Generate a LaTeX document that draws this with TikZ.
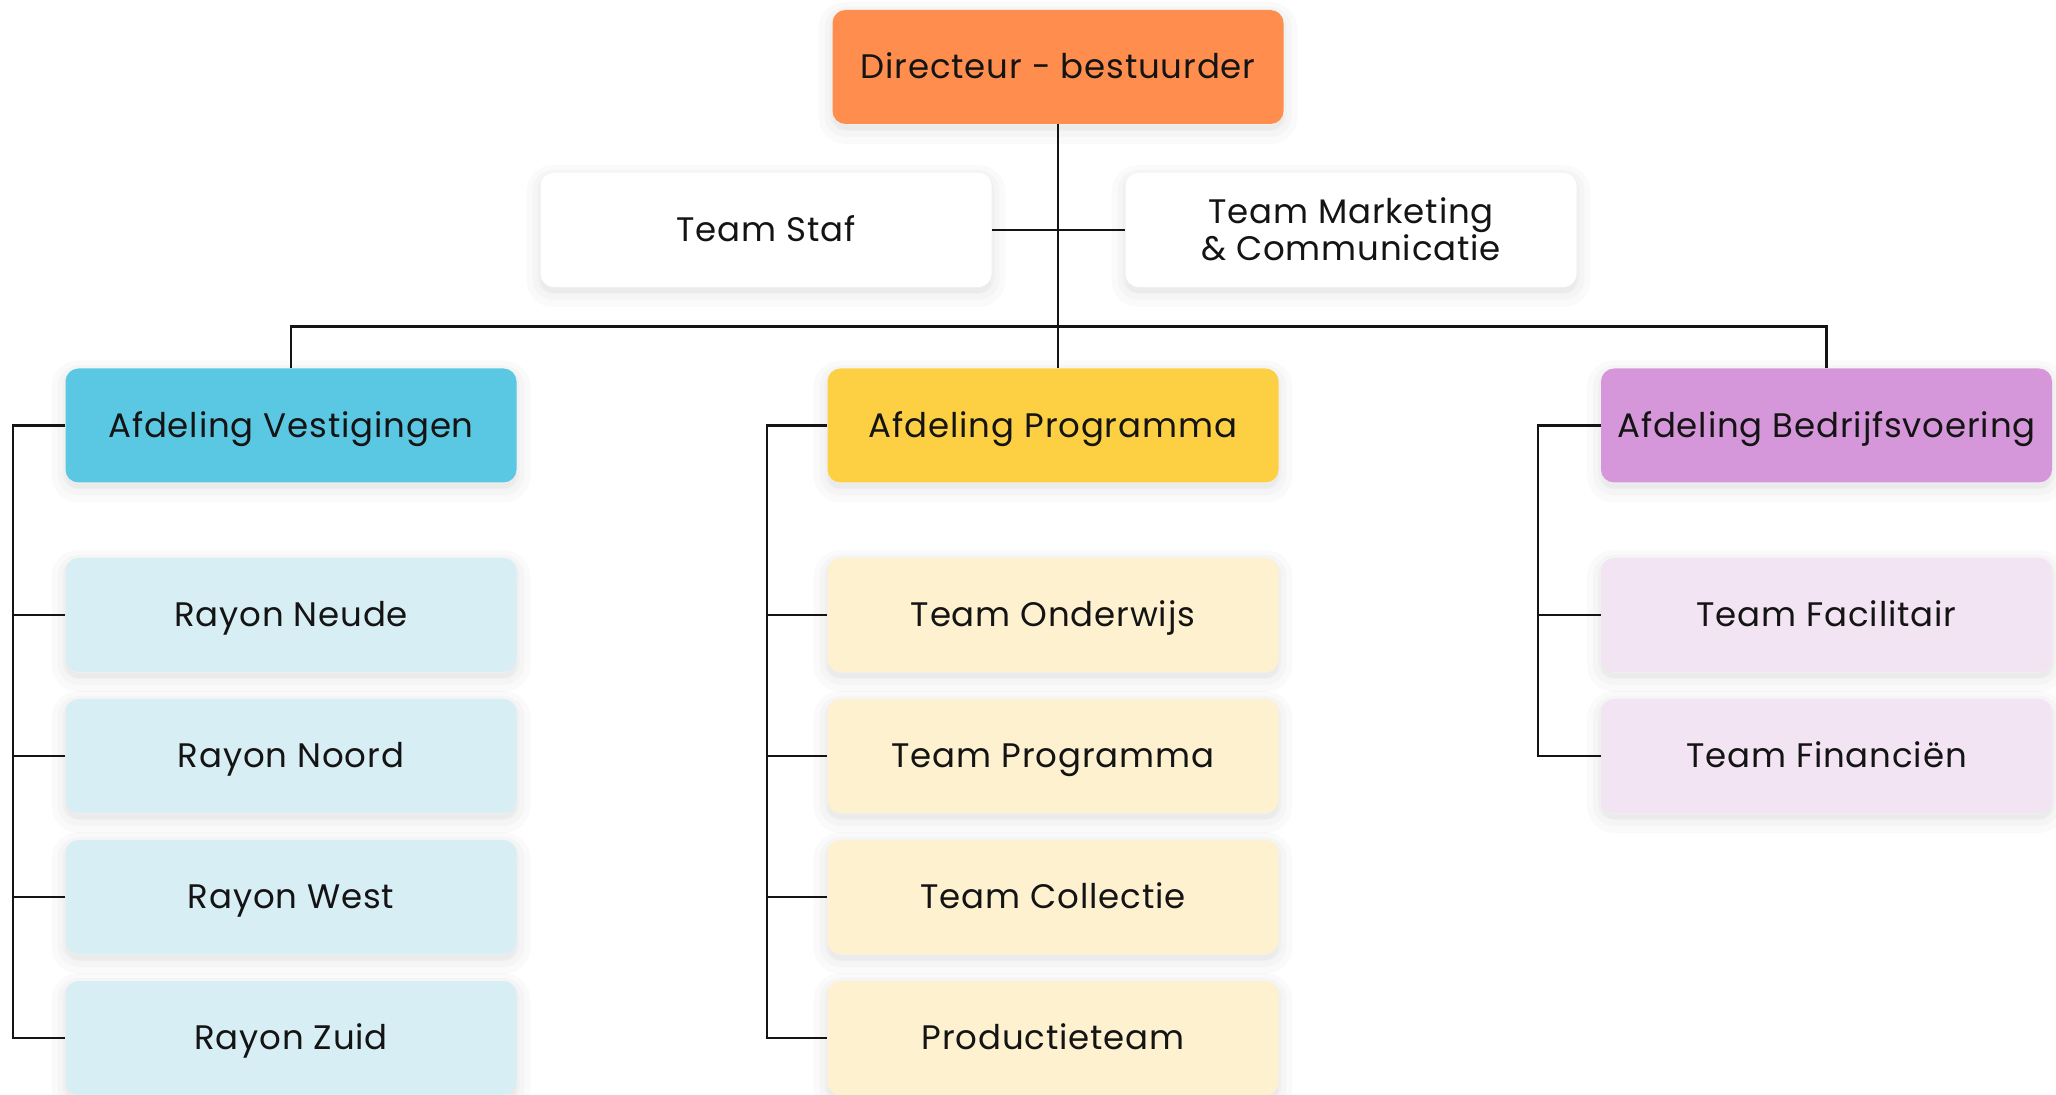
\documentclass[tikz,border=0pt]{standalone}
\usepackage{fontspec}
\setmainfont{Poppins}[LetterSpace=2.5]
\usetikzlibrary{shadows}
\definecolor{ink}{HTML}{141414}
\definecolor{cOrange}{HTML}{FF8E4E}
\definecolor{cBlue}{HTML}{5BC8E3}
\definecolor{cYellow}{HTML}{FDD043}
\definecolor{cPurple}{HTML}{D597D9}
\definecolor{lBlue}{HTML}{D8EEF5}
\definecolor{lYellow}{HTML}{FEF1CF}
\definecolor{lPurple}{HTML}{F2E4F3}
\begin{document}
\begin{tikzpicture}[x=0.5pt,y=-0.5pt,
  softshadow/.style={
    general shadow={shadow xshift=0pt, shadow yshift=-3pt, fill=black, fill opacity=0.02, draw=black, draw opacity=0.018, line width=14pt},
    general shadow={shadow xshift=0pt, shadow yshift=-2.5pt, draw=black, draw opacity=0.02, line width=8pt},
    general shadow={shadow xshift=0pt, shadow yshift=-2pt, draw=black, draw opacity=0.02, line width=3pt}},
  box/.style={rectangle, rounded corners=6.5pt, minimum width=225.5pt, minimum height=57pt,
    inner sep=0pt, align=center, font=\fontsize{17}{18.5}\selectfont, text=ink,
    text height=11.9pt, text depth=0pt, softshadow},
  link/.style={line width=1.25pt, draw=ink}]
\useasboundingbox[fill=white] (0,0) rectangle (2056,1095);

% top
\node[box, fill=cOrange] (dir) at (1058,67) {Directeur - bestuurder};
\node[box, fill=white] (staf) at (766,230) {Team Staf};
\node[box, fill=white, text height=30.4pt] (mark) at (1351,230) {Team Marketing\\\& Communicatie};

% departments
\node[box, fill=cBlue] (av) at (291,425.5) {Afdeling Vestigingen};
\node[box, fill=cYellow] (ap) at (1053,425.5) {Afdeling Programma};
\node[box, fill=cPurple] (ab) at (1826.5,425.5) {Afdeling Bedrijfsvoering};

% Vestigingen teams
\node[box, fill=lBlue] (v1) at (291,615) {Rayon Neude};
\node[box, fill=lBlue] (v2) at (291,756) {Rayon Noord};
\node[box, fill=lBlue] (v3) at (291,897) {Rayon West};
\node[box, fill=lBlue] (v4) at (291,1038) {Rayon Zuid};

% Programma teams
\node[box, fill=lYellow] (p1) at (1053,615) {Team Onderwijs};
\node[box, fill=lYellow] (p2) at (1053,756) {Team Programma};
\node[box, fill=lYellow] (p3) at (1053,897) {Team Collectie};
\node[box, fill=lYellow] (p4) at (1053,1038) {Productieteam};

% Bedrijfsvoering teams
\node[box, fill=lPurple] (b1) at (1826.5,615) {Team Facilitair};
\node[box, fill=lPurple] (b2) at (1826.5,756) {Team Financiën};

% connectors
\coordinate (bus) at (1058,326.5);
\coordinate (avr) at (13,0);
\coordinate (apr) at (767,0);
\coordinate (abr) at (1538,0);

\draw[link] (dir.south) -- (dir.south |- ap.north);
\draw[link] (staf.east) -- (mark.west);
\draw[link] (av.north) |- (bus) -| (ab.north);

\draw[link] (av.west) -- (av.west -| avr) |- (v4.west);
\foreach \n in {v1,v2,v3} \draw[link] (\n.west) -- (\n.west -| avr);

\draw[link] (ap.west) -- (ap.west -| apr) |- (p4.west);
\foreach \n in {p1,p2,p3} \draw[link] (\n.west) -- (\n.west -| apr);

\draw[link] (ab.west) -- (ab.west -| abr) |- (b2.west);
\draw[link] (b1.west) -- (b1.west -| abr);
\end{tikzpicture}
\end{document}
